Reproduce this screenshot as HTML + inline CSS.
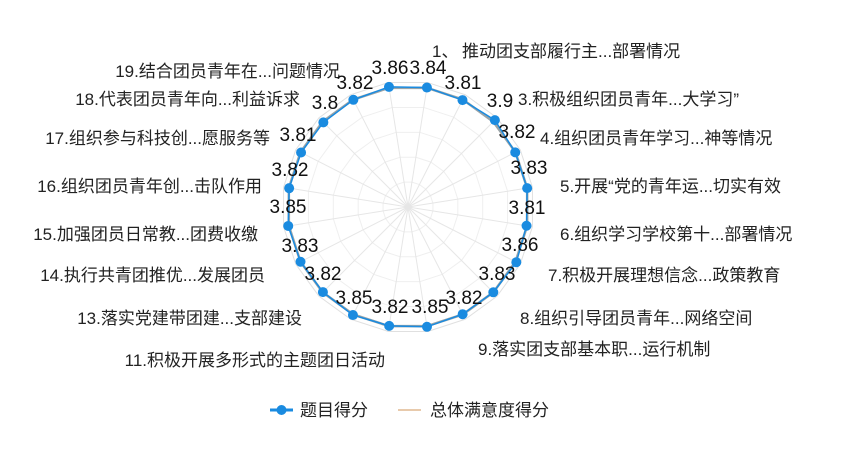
<!DOCTYPE html>
<html><head><meta charset="utf-8"><style>
html,body{margin:0;padding:0;background:#fff;}
svg{display:block;font-family:"Liberation Sans","Noto Sans CJK SC",sans-serif;}
.l{font-size:17px;fill:#222;}
.v{font-size:19px;fill:#111;text-anchor:middle;}
</style></head><body>
<svg id="s" width="865" height="455" viewBox="0 0 865 455">
<g id="grid"></g>
<g id="data"></g>
<text class="l" x="432" y="57">1、</text>
<text class="l" x="462" y="57">推动团支部履行主...部署情况</text>
<text class="l" x="518" y="105">3.积极组织团员青年...大学习”</text>
<text class="l" x="540" y="144">4.组织团员青年学习...神等情况</text>
<text class="l" x="560" y="192">5.开展“党的青年运...切实有效</text>
<text class="l" x="560" y="240">6.组织学习学校第十...部署情况</text>
<text class="l" x="548" y="281">7.积极开展理想信念...政策教育</text>
<text class="l" x="520" y="324">8.组织引导团员青年...网络空间</text>
<text class="l" x="478" y="355">9.落实团支部基本职...运行机制</text>
<text class="l" x="385" y="366" text-anchor="end">11.积极开展多形式的主题团日活动</text>
<text class="l" x="302" y="324" text-anchor="end">13.落实党建带团建...支部建设</text>
<text class="l" x="265" y="281" text-anchor="end">14.执行共青团推优...发展团员</text>
<text class="l" x="258" y="240" text-anchor="end">15.加强团员日常教...团费收缴</text>
<text class="l" x="262" y="192" text-anchor="end">16.组织团员青年创...击队作用</text>
<text class="l" x="270" y="144" text-anchor="end">17.组织参与科技创...愿服务等</text>
<text class="l" x="300" y="105" text-anchor="end">18.代表团员青年向...利益诉求</text>
<text class="l" x="340" y="77" text-anchor="end">19.结合团员青年在...问题情况</text>
<text class="v" x="390" y="74">3.86</text>
<text class="v" x="428" y="74">3.84</text>
<text class="v" x="463" y="89">3.81</text>
<text class="v" x="500" y="107">3.9</text>
<text class="v" x="517" y="138">3.82</text>
<text class="v" x="529" y="174">3.83</text>
<text class="v" x="527" y="214">3.81</text>
<text class="v" x="520" y="251">3.86</text>
<text class="v" x="497" y="280">3.83</text>
<text class="v" x="464" y="304">3.82</text>
<text class="v" x="430" y="313">3.85</text>
<text class="v" x="390" y="313">3.82</text>
<text class="v" x="354" y="304">3.85</text>
<text class="v" x="323" y="280">3.82</text>
<text class="v" x="300" y="252">3.83</text>
<text class="v" x="288" y="213">3.85</text>
<text class="v" x="290" y="176">3.82</text>
<text class="v" x="298" y="141">3.81</text>
<text class="v" x="325" y="109">3.8</text>
<text class="v" x="355" y="89">3.82</text>
<line x1="270" y1="410" x2="293" y2="410" stroke="#1a8be0" stroke-width="3"/>
<circle cx="281.5" cy="410" r="5" fill="#1a8be0"/>
<text class="l" x="300" y="416">题目得分</text>
<line x1="398" y1="410" x2="421" y2="410" stroke="#e0b890" stroke-width="1.5"/>
<text class="l" x="430" y="416">总体满意度得分</text>
</svg>
<script>
var cx=408,cy=207,N=20,ns="http://www.w3.org/2000/svg";
var vals=[3.84,3.81,3.9,3.82,3.83,3.81,3.86,3.83,3.82,3.85,3.82,3.85,3.82,3.83,3.85,3.82,3.81,3.8,3.82,3.86];
function pt(i,r){var a=(-81+i*18)*Math.PI/180;return [cx+r*Math.cos(a),cy+r*Math.sin(a)];}
function el(t,at,p){var e=document.createElementNS(ns,t);for(var k in at)e.setAttribute(k,at[k]);document.getElementById(p).appendChild(e);return e;}
var R=126;
for(var k=1;k<=5;k++){var ps=[];for(var i=0;i<N;i++)ps.push(pt(i,R*k/5).join(','));el('polygon',{points:ps.join(' '),fill:'none',stroke:k==5?'#e0e0e0':'#efefef','stroke-width':1},'grid');}
for(var i=0;i<N;i++){var p=pt(i,R);el('line',{x1:cx,y1:cy,x2:p[0],y2:p[1],stroke:'#e6e6e6','stroke-width':1},'grid');}
var g=[];for(var i=0;i<N;i++)g.push(pt(i,R*3.83/4).join(','));
el('polygon',{points:g.join(' '),fill:'none',stroke:'#9aa4a8','stroke-width':2.5},'data');
var b=[];for(var i=0;i<N;i++)b.push(pt(i,R*vals[i]/4));
el('polygon',{points:b.map(function(q){return q.join(',')}).join(' '),fill:'none',stroke:'#1a8be0','stroke-width':1.5},'data');
b.forEach(function(q){el('circle',{cx:q[0],cy:q[1],r:5,fill:'#1a8be0'},'data');});
</script>
</body></html>
